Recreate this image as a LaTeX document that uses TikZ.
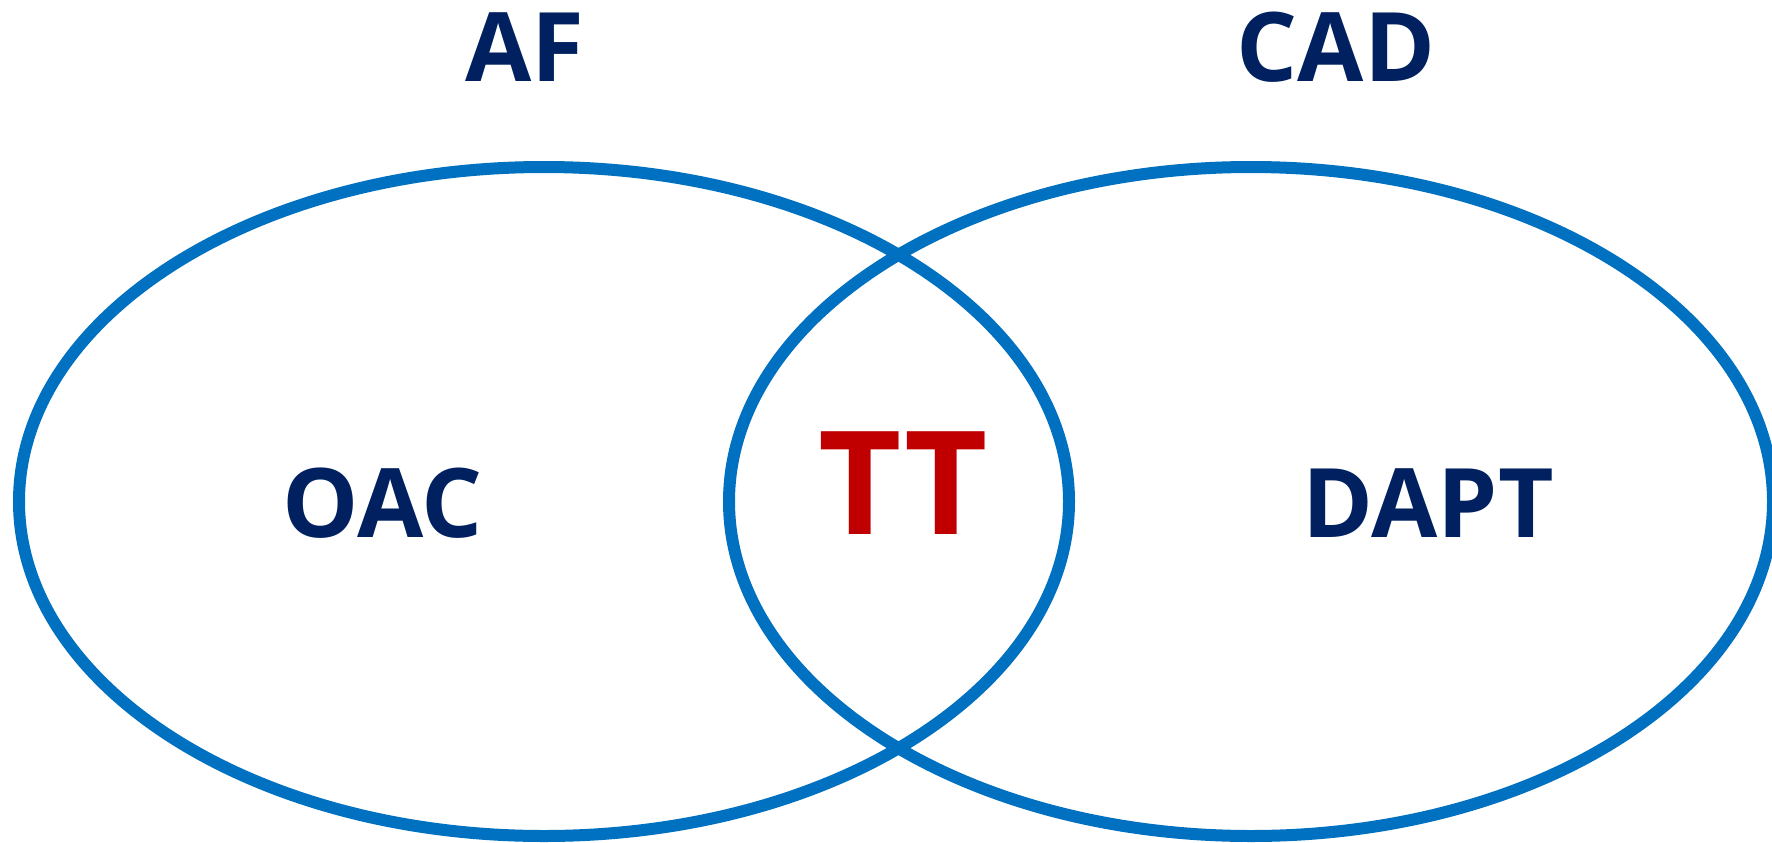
\documentclass[tikz,border=0pt]{standalone}
\usepackage{fontspec}
\setmainfont{Open Sans}
\definecolor{ringblue}{HTML}{0070C0}
\definecolor{navy}{HTML}{002060}
\definecolor{darkred}{HTML}{C00000}
\begin{document}
\begin{tikzpicture}[x=1pt,y=-1pt,
  ring/.style={draw=ringblue,line width=12pt},
  lbl/.style={text=navy,font=\fontsize{96}{110}\selectfont\bfseries,anchor=base,inner sep=0pt},
  mid/.style={text=darkred,font=\fontsize{144}{160}\selectfont\bfseries,anchor=base,inner sep=0pt}]
\useasboundingbox (0,0) rectangle (1772,843);
\path[ring] (544,501.5) ellipse [x radius=525pt, y radius=334.5pt];
\path[ring] (1251,501.5) ellipse [x radius=522pt, y radius=334.5pt];
\node[lbl] (af) at (524.5,81.5) {AF};
\node[lbl] (cad) at (1336,81.5) {CAD};
\node[lbl] (oac) at (382.5,537) {OAC};
\node[lbl] (dapt) at (1428,537) {DAPT};
\node[mid] (tt) at (903,534) {TT};
\end{tikzpicture}
\end{document}
